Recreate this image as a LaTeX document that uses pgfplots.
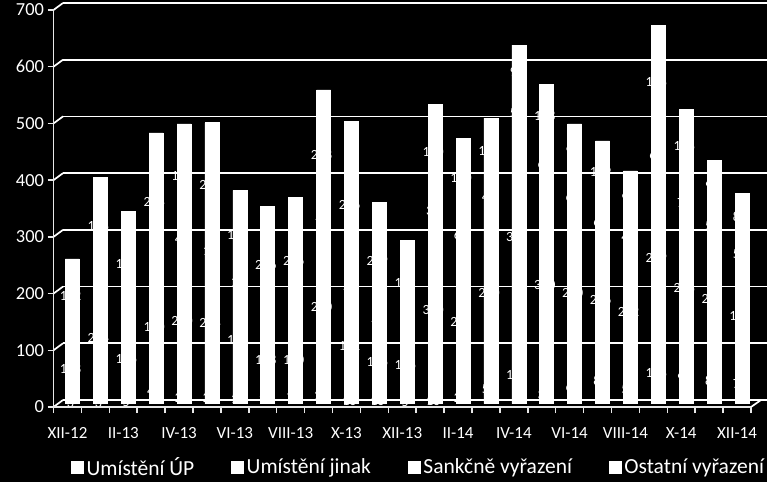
\documentclass[border=0pt]{standalone}
\usepackage{pgfplots}
\usepackage{pgfplotstable}
\pgfplotsset{compat=1.18}
\usepackage{fontspec}
\setmainfont{Carlito}

\pgfplotstableread{
x a b c d
0 3 118 2 132
1 3 224 3 168
2 5 146 3 185
3 45 180 8 244
4 20 250 40 183
5 20 244 10 221
6 15 194 10 157
7 18 118 6 206
8 22 110 6 226
9 25 290 10 228
10 10 182 10 296
11 10 126 10 209
12 5 126 5 152
13 10 310 38 170
14 20 248 60 140
15 50 290 48 115
16 100 388 50 94
17 30 360 64 108
18 60 270 68 95
19 80 206 68 109
20 50 222 44 94
21 108 299 62 198
22 90 228 72 128
23 80 208 50 91
24 70 168 50 82
}\data

\begin{document}
\begin{tikzpicture}[x=1pt,y=1pt]
\fill[black] (0,0) rectangle (767,482);
\useasboundingbox (0,0) rectangle (767,482);
% back wall with gridlines
\begin{axis}[at={(63pt,82pt)}, anchor=south west, scale only axis,
  width=704pt, height=397pt, xmin=0, xmax=1, ymin=0, ymax=700,
  ytick={0,100,...,700}, xtick=\empty, yticklabels={},
  ymajorgrids, grid style={white, line width=1.7pt},
  axis line style={draw=none}, major tick length=0pt]
\end{axis}
\foreach \v in {0,100,...,700}
  \draw[white, line width=1.7pt] (53.5,{75+0.567143*\v}) -- (63,{82+0.567143*\v});
\draw[white, line width=1.7pt] (751,75) -- (761,82);
% bars
\begin{axis}[at={(58.5pt,78.5pt)}, anchor=south west, scale only axis,
  width=697.5pt, height=397pt, xmin=-0.5, xmax=24.5, ymin=0, ymax=700,
  hide axis, ybar stacked, bar width=14pt]
\addplot[fill=white, draw=white, line width=0.7pt] table[x=x,y=a]{\data};
\addplot[fill=white, draw=white, line width=0.7pt] table[x=x,y=b]{\data};
\addplot[fill=white, draw=white, line width=0.7pt] table[x=x,y=c]{\data};
\addplot[fill=white, draw=white, line width=0.7pt] table[x=x,y=d]{\data};
\end{axis}
% data labels (white, mostly hidden on the white bars)
\begin{axis}[at={(58.5pt,78.5pt)}, anchor=south west, scale only axis,
  width=697.5pt, height=397pt, xmin=-0.5, xmax=24.5, ymin=0, ymax=700,
  hide axis, clip=false,
  every node near coord/.style={anchor=center, text=white, xshift=-2pt,
    font=\fontsize{14}{14}\selectfont, /pgf/number format/assume math mode=true}]
\addplot[draw=none, mark=none, nodes near coords, point meta=explicit]
  table[x=x, y expr=\thisrow{a}/2, meta=a]{\data};
\addplot[draw=none, mark=none, nodes near coords, point meta=explicit]
  table[x=x, y expr=\thisrow{a}+\thisrow{b}/2, meta=b]{\data};
\addplot[draw=none, mark=none, nodes near coords, point meta=explicit]
  table[x=x, y expr=\thisrow{a}+\thisrow{b}+\thisrow{c}/2, meta=c]{\data};
\addplot[draw=none, mark=none, nodes near coords, point meta=explicit]
  table[x=x, y expr=\thisrow{a}+\thisrow{b}+\thisrow{c}+\thisrow{d}/2, meta=d]{\data};
\end{axis}
% front axis, ticks, labels, legend
\begin{axis}[at={(53.5pt,75pt)}, anchor=south west, scale only axis,
  width=697.5pt, height=397pt, xmin=-0.5, xmax=24.5, ymin=0, ymax=700,
  axis lines*=left, axis line style={draw=white!82!gray, line width=1.5pt, -},
  ytick={0,100,...,700}, xtick={0,2,...,24},
  xticklabels={XII-12,II-13,IV-13,VI-13,VIII-13,X-13,XII-13,II-14,IV-14,VI-14,VIII-14,X-14,XII-14},
  minor xtick={-0.5,0.5,...,24.5},
  tick align=outside, major tick length=6pt, minor tick length=6pt,
  major x tick style={draw=none},
  minor x tick style={draw=white!82!gray, line width=1.5pt},
  y tick style={draw=white!82!gray, line width=1.5pt},
  /pgf/number format/assume math mode=true,
  xticklabel style={font=\fontsize{17}{17}\selectfont, text=white, yshift=-11pt},
  yticklabel style={font=\fontsize{18.4}{18.4}\selectfont, text=white},
  legend columns=4,
  legend image code/.code={\fill[white] (0pt,-6pt) rectangle (12pt,6pt);},
  legend style={at={(0.0251,-0.1511)}, anchor=west, draw=none, fill=none,
    text=white, font=\fontsize{21.5}{21.5}\selectfont, inner sep=0pt,
    nodes={inner sep=0pt},
    /tikz/every even column/.append style={column sep=37pt},
    /tikz/every odd column/.append style={column sep=3pt}}]
\addlegendimage{fill=white}
\addlegendimage{fill=white}
\addlegendimage{fill=white}
\addlegendimage{fill=white}
\legend{Umístění ÚP, Umístění jinak, Sankčně vyřazení, Ostatní vyřazení}
\end{axis}
\end{tikzpicture}
\end{document}
